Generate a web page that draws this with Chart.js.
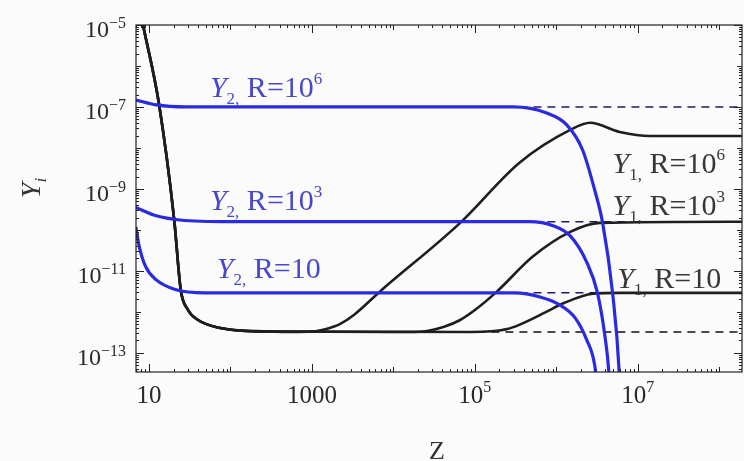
<!DOCTYPE html>
<html lang="en">
<head>
<meta charset="UTF-8">
<title>Y_i vs Z</title>
<script src="https://cdn.jsdelivr.net/npm/chart.js"></script>
<style>
  body { margin: 0; background: #fafbfa; }
  #wrap { width: 744px; height: 461px; }
</style>
</head>
<body>
<div id="wrap"><canvas id="chart" width="744" height="461"></canvas></div>
<script>
// steep drop shared by all Y1 curves at small Z
const zShared  = [6.9, 8.7, 13.2, 20.4, 24.5, 30, 40, 72, 300];
const y1Shared = [6.6e-5, 7.6e-6, 1.26e-7, 1.74e-10, 3.5e-12, 1.12e-12, 6.3e-13, 4.1e-13, 3.3e-13];

// Y1 rising branches
const zY1R6 = [700, 1100, 1500, 2200, 3300, 6800, 6.6e4, 3.5e5, 1.48e6, 2.6e6, 6.0e6, 1.4e7, 2e8];
const y1R6  = [3.2e-13, 3.35e-13, 3.8e-13, 5.0e-13, 8.5e-13, 3.1e-12, 1.48e-10, 4.3e-9, 2.75e-8, 4.1e-8, 2.45e-8, 1.95e-8, 1.95e-8];
const zY1R3 = [1.5e4, 2.6e4, 4.2e4, 6.6e4, 1.0e5, 1.86e5, 5.1e5, 1.48e6, 3.4e6, 2e8];
const y1R3  = [3.2e-13, 3.4e-13, 4.3e-13, 6.3e-13, 1.1e-12, 3.1e-12, 2.2e-11, 8.9e-11, 1.48e-10, 1.58e-10];
const zY1R1 = [9e4, 1.6e5, 2.5e5, 3.5e5, 7.2e5, 1.26e6, 2.8e6, 6.0e6, 2e8];
const y1R1  = [3.2e-13, 3.35e-13, 3.8e-13, 4.8e-13, 9.5e-13, 1.66e-12, 2.75e-12, 2.9e-12, 2.9e-12];

// Y2 curves
const zY2R6 = [6.9, 12.3, 28, 2.95e5, 7.6e5, 1.35e6, 2.1e6, 2.95e6, 3.7e6, 4.9e6, 5.9e6, 6.2e6];
const y2R6  = [1.48e-7, 1.12e-7, 1.0e-7, 1.0e-7, 7.1e-8, 3.6e-8, 8.9e-9, 9.5e-10, 1.48e-10, 2.9e-12, 3.5e-14, 2.5e-15];
const zY2R3 = [6.9, 12.3, 24, 98, 4.7e5, 9.1e5, 1.48e6, 2.35e6, 3.2e6, 4.0e6, 4.4e6, 4.7e6];
const y2R3  = [3.5e-10, 2.2e-10, 1.74e-10, 1.58e-10, 1.58e-10, 1.26e-10, 7.1e-11, 1.66e-11, 2.9e-12, 2.1e-13, 3.5e-14, 2.5e-15];
const zY2R1 = [6.9, 7.6, 9.1, 12.3, 21, 49, 3.1e5, 6.3e5, 1.1e6, 1.7e6, 2.35e6, 2.95e6, 3.3e6];
const y2R1  = [1.17e-10, 3.9e-11, 1.26e-11, 6.0e-12, 3.5e-12, 2.9e-12, 2.9e-12, 2.3e-12, 1.48e-12, 7.1e-13, 2.1e-13, 5.1e-14, 7.1e-15];

// dashed asymptotes
const zAsym = [1e4, 2e8];
const y2Limits = [1.0e-7, 1.58e-10, 2.9e-12];
const y1Limit = 3.2e-13;

// axes
const zMin = 6.93, zMax = 1.9e8;
const yMin = 3.39e-14, yMax = 1e-5;
const xLabelTicks = [10, 1000, 1e5, 1e7];
const xLabelExp   = [null, null, '5', '7'];
const yLabelTicks = [1e-5, 1e-7, 1e-9, 1e-11, 1e-13];
const yLabelExp   = ['\u22125', '\u22127', '\u22129', '\u221211', '\u221213'];

// curve labels: [Y index, R text, R exponent, z, y, colour]
const curveLabels = [
  ['2', 'R=10', '6', 56, 1.74e-7, '#4848cc'],
  ['2', 'R=10', '3', 56, 3.1e-10, '#4848cc'],
  ['2', 'R=10', '',  68, 6.8e-12, '#4848cc'],
  ['1', 'R=10', '6', 4.9e6, 2.45e-9, '#383838'],
  ['1', 'R=10', '3', 4.9e6, 2.35e-10, '#383838'],
  ['1', 'R=10', '',  5.6e6, 3.9e-12, '#383838']
];

const BLUE = '#2a2ae0';
const BLACK = '#1e1e1e';
const SERIF = '"Liberation Serif", "DejaVu Serif", serif';

function pts(zs, ys) {
  return zs.map((z, i) => ({ x: z, y: ys[i] }));
}

function curve(data, color, width) {
  return {
    data: data,
    borderColor: color,
    borderWidth: width,
    pointRadius: 0,
    fill: false,
    cubicInterpolationMode: 'monotone',
    clip: 0
  };
}

function dashed(level, color) {
  return {
    data: pts(zAsym, [level, level]),
    borderColor: color,
    borderWidth: 1.5,
    borderDash: [8, 6],
    pointRadius: 0,
    fill: false,
    clip: 0
  };
}

const datasets = [
  curve(pts(zY2R6, y2R6), BLUE, 3.2),
  curve(pts(zY2R3, y2R3), BLUE, 3.2),
  curve(pts(zY2R1, y2R1), BLUE, 3.2),
  curve(pts(zShared.concat(zY1R6), y1Shared.concat(y1R6)), BLACK, 2.6),
  curve(pts(zShared.concat(zY1R3), y1Shared.concat(y1R3)), BLACK, 2.6),
  curve(pts(zShared.concat(zY1R1), y1Shared.concat(y1R1)), BLACK, 2.6),
  dashed(y2Limits[0], '#1c1c66'),
  dashed(y2Limits[1], '#1c1c66'),
  dashed(y2Limits[2], '#1c1c66'),
  dashed(y1Limit, '#111111')
];

// draws a row of text pieces: {t, font, dy}
function drawRuns(ctx, runs, x, y, align) {
  let total = 0;
  runs.forEach(r => {
    ctx.font = r.font;
    r.w = ctx.measureText(r.t).width;
    total += r.w;
  });
  let cx = align === 'right' ? x - total : align === 'center' ? x - total / 2 : x;
  ctx.textAlign = 'left';
  ctx.textBaseline = 'alphabetic';
  runs.forEach(r => {
    ctx.font = r.font;
    ctx.fillText(r.t, cx, y + (r.dy || 0));
    cx += r.w;
  });
}

const framePlugin = {
  id: 'frame',
  afterDraw(chart) {
    const ctx = chart.ctx;
    const a = chart.chartArea;
    const xs = chart.scales.x;
    const ys = chart.scales.y;
    ctx.save();

    // frame
    ctx.strokeStyle = '#222';
    ctx.lineWidth = 1.2;
    ctx.strokeRect(a.left, a.top, a.right - a.left, a.bottom - a.top);

    // tick marks on all four sides
    ctx.lineWidth = 1;
    for (let n = 0; n <= 8; n++) {
      for (let k = 1; k <= 9; k++) {
        const v = k * Math.pow(10, n);
        if (v < zMin || v > zMax) continue;
        const px = Math.round(xs.getPixelForValue(v)) + 0.5;
        const len = k === 1 ? (xLabelTicks.includes(v) ? 8 : 5) : 3;
        ctx.beginPath();
        ctx.moveTo(px, a.bottom); ctx.lineTo(px, a.bottom - len);
        ctx.moveTo(px, a.top); ctx.lineTo(px, a.top + len);
        ctx.stroke();
      }
    }
    for (let n = -14; n <= -5; n++) {
      for (let k = 1; k <= 9; k++) {
        const v = k * Math.pow(10, n);
        if (v < yMin || v > yMax * 1.0001) continue;
        const py = Math.round(ys.getPixelForValue(v)) + 0.5;
        const isLab = k === 1 && yLabelTicks.some(t => Math.abs(t - v) / t < 1e-6);
        const len = k === 1 ? (isLab ? 8 : 5) : 3;
        ctx.beginPath();
        ctx.moveTo(a.left, py); ctx.lineTo(a.left + len, py);
        ctx.moveTo(a.right, py); ctx.lineTo(a.right - len, py);
        ctx.stroke();
      }
    }

    // tick labels
    ctx.fillStyle = '#2a2a2a';
    xLabelTicks.forEach((v, i) => {
      const px = xs.getPixelForValue(v);
      const runs = [{ t: xLabelExp[i] ? '10' : String(v), font: '25px ' + SERIF }];
      if (xLabelExp[i]) runs.push({ t: xLabelExp[i], font: '16px ' + SERIF, dy: -11 });
      drawRuns(ctx, runs, px, 403, 'center');
    });
    yLabelTicks.forEach((v, i) => {
      const py = ys.getPixelForValue(v);
      drawRuns(ctx, [
        { t: '10', font: '24px ' + SERIF },
        { t: yLabelExp[i], font: '16px ' + SERIF, dy: -9 }
      ], 126, py + 12, 'right');
    });

    // axis titles
    ctx.fillStyle = '#333';
    drawRuns(ctx, [{ t: 'Z', font: '26px ' + SERIF }], 437, 459, 'center');
    ctx.translate(40, 188);
    ctx.rotate(-Math.PI / 2);
    drawRuns(ctx, [
      { t: 'Y', font: 'italic 28px ' + SERIF },
      { t: 'i', font: 'italic 17px ' + SERIF, dy: 6 }
    ], 0, 0, 'center');
    ctx.setTransform(1, 0, 0, 1, 0, 0);

    // curve labels
    curveLabels.forEach(l => {
      const x = xs.getPixelForValue(l[3]);
      const y = ys.getPixelForValue(l[4]);
      ctx.fillStyle = l[5];
      const runs = [
        { t: 'Y', font: 'italic 30px ' + SERIF },
        { t: l[0] + ',', font: '17px ' + SERIF, dy: 7 },
        { t: ' ' + l[1], font: '30px ' + SERIF }
      ];
      if (l[2]) runs.push({ t: l[2], font: '17px ' + SERIF, dy: -13 });
      drawRuns(ctx, runs, x, y, 'left');
    });

    ctx.restore();
  }
};

new Chart(document.getElementById('chart'), {
  type: 'line',
  data: { datasets: datasets },
  options: {
    responsive: false,
    animation: false,
    layout: { padding: { left: 136, top: 25, right: 2, bottom: 89 } },
    plugins: { legend: { display: false }, tooltip: { enabled: false } },
    scales: {
      x: { type: 'logarithmic', min: zMin, max: zMax, display: false },
      y: { type: 'logarithmic', min: yMin, max: yMax, display: false }
    }
  },
  plugins: [framePlugin]
});
</script>
</body>
</html>
